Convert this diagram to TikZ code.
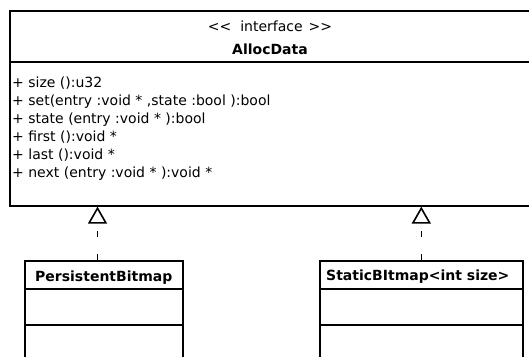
\documentclass[tikz,border=0pt]{standalone}
\usepackage{fontspec}
\setmainfont{DejaVu Sans}
\usetikzlibrary{arrows.meta}
\begin{document}
\begin{tikzpicture}[x=1pt,y=-1pt,
  classbox/.style={draw, line width=1.6pt, rectangle, inner sep=0pt, anchor=north west},
  divider/.style={line width=1.4pt},
  member/.style={anchor=base west, inner sep=0pt, font=\fontsize{14}{18}\selectfont},
  title/.style={anchor=base, inner sep=0pt, font=\fontsize{14}{18}\selectfont},
  cname/.style={anchor=base west, inner sep=0pt, font=\fontsize{14}{18}\selectfont\bfseries},
  impl/.style={line width=1.6pt, dash pattern=on 6pt off 17pt,
    -{Triangle[open, width=19pt, length=17pt, line width=1.6pt]}}]
\useasboundingbox (0,0) rectangle (529,356);

% interface box
\node[classbox, minimum width=522pt, minimum height=195pt] (iface) at (9,10) {};
\draw[divider] (iface.west |- 0,62) -- (iface.east |- 0,62);
\node[title] (stereo) at (270,31) {<{}<\hspace{9pt}interface\hspace{6pt}>{}>};
\node[title, font=\fontsize{14}{18}\selectfont\bfseries] (iname) at (270,54) {AllocData};
\node[member] (m1) at (12,87)  {+ size ():u32};
\node[member] (m2) at (12,105) {+ set(entry :void * ,state :bool ):bool};
\node[member] (m3) at (12,123) {+ state (entry :void * ):bool};
\node[member] (m4) at (12,141) {+ first ():void *};
\node[member] (m5) at (12,159) {+ last ():void *};
\node[member] (m6) at (12,177) {+ next (entry :void * ):void *};

% implementing classes
\node[classbox, minimum width=158pt, minimum height=130pt] (pb) at (24,260) {};
\draw[divider] (pb.west |- 0,289) -- (pb.east |- 0,289);
\draw[divider] (pb.west |- 0,325) -- (pb.east |- 0,325);
\node[cname] (pbname) at (35,281) {PersistentBitmap};

\node[classbox, minimum width=203pt, minimum height=130pt] (sb) at (319,260) {};
\draw[divider] (sb.west |- 0,289) -- (sb.east |- 0,289);
\draw[divider] (sb.west |- 0,325) -- (sb.east |- 0,325);
\node[cname] (sbname) at (326,280) {StaticBItmap<int size>};

% realization arrows
\coordinate (lx) at (97.5,0);
\draw[impl] (pb.north -| lx) -- (iface.south -| lx);
\draw[impl] (sb.north) -- (iface.south -| sb.north);
\end{tikzpicture}
\end{document}
